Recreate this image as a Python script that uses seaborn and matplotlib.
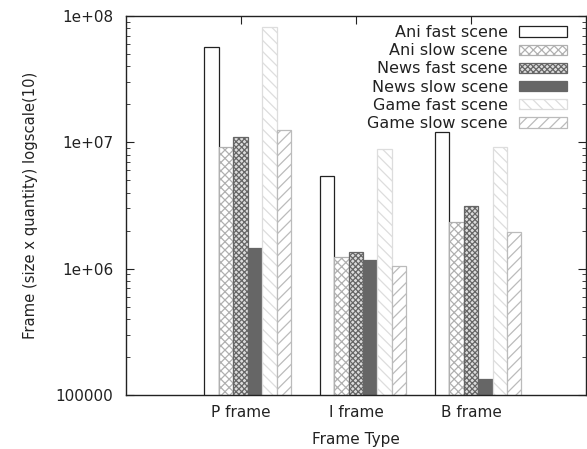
import numpy as np
import pandas as pd
import seaborn as sns
import matplotlib
matplotlib.use("Agg")
import matplotlib.pyplot as plt
from matplotlib.patches import Patch
from matplotlib.ticker import FixedLocator, FuncFormatter, LogLocator

frames = ["P frame", "I frame", "B frame"]
scenes = ["Ani fast scene", "Ani slow scene", "News fast scene",
          "News slow scene", "Game fast scene", "Game slow scene"]
ani_fast = [5.7e7, 5.4e6, 1.21e7]
ani_slow = [9.2e6, 1.24e6, 2.34e6]
news_fast = [1.1e7, 1.35e6, 3.13e6]
news_slow = [1.46e6, 1.17e6, 1.34e5]
game_fast = [8.2e7, 8.85e6, 9.2e6]
game_slow = [1.25e7, 1.05e6, 1.95e6]
yticks = [1e5, 1e6, 1e7, 1e8]
ytick_labels = ["100000", "1e+06", "1e+07", "1e+08"]

series = [ani_fast, ani_slow, news_fast, news_slow, game_fast, game_slow]
rows = []
for s, vals in zip(scenes, series):
    for f, v in zip(frames, vals):
        rows.append({"frame": f, "scene": s, "value": v})
df = pd.DataFrame(rows)

sns.set_style("ticks")
plt.rcParams["font.family"] = ["DejaVu Sans"]
plt.rcParams["hatch.linewidth"] = 0.9

styles = [
    dict(facecolor="white", edgecolor="#222222", hatch=None, lw=0.9),
    dict(facecolor="white", edgecolor="#b0b0b0", hatch="xxxx", lw=0.9),
    dict(facecolor="#dddddd", edgecolor="#666666", hatch="xxxxxx", lw=0.9),
    dict(facecolor="#666666", edgecolor="#666666", hatch=None, lw=0.9),
    dict(facecolor="white", edgecolor="#dddddd", hatch="\\\\\\", lw=0.9),
    dict(facecolor="white", edgecolor="#bbbbbb", hatch="///", lw=0.9),
]

fig = plt.figure(figsize=(5.87, 4.49), dpi=100)
ax = fig.add_axes([126/587, 1-395/449, (586-126)/587, (395-16)/449])

sns.barplot(data=df, x="frame", y="value", hue="scene", order=frames,
            hue_order=scenes, width=0.75, dodge=True, ax=ax,
            log_scale=(False, True), errorbar=None, legend=False)

for cont, st in zip(ax.containers, styles):
    for p in cont.patches:
        p.set_facecolor(st["facecolor"])
        p.set_edgecolor(st["edgecolor"])
        p.set_linewidth(st["lw"])
        if st["hatch"]:
            p.set_hatch(st["hatch"])

ax.set_yscale("log")
ax.set_ylim(1e5, 1e8)
ax.set_xlim(-1.056, 2.935)
ax.yaxis.set_major_locator(FixedLocator(yticks))
ax.set_yticklabels(ytick_labels)
ax.yaxis.set_minor_locator(LogLocator(base=10, subs=np.arange(2, 10)))
ax.yaxis.set_minor_formatter(FuncFormatter(lambda v, p: ""))
ax.set_xticks([-0.06, 0.94, 1.94])
ax.set_xticklabels(frames)

for sp in ax.spines.values():
    sp.set_visible(True)
    sp.set_color("#222222")
    sp.set_linewidth(1.0)

ax.tick_params(axis="both", which="major", direction="in", length=6,
               top=True, right=True, labelsize=11, color="#222222",
               labelcolor="#222222")
ax.tick_params(axis="y", which="major", pad=9)
ax.tick_params(axis="y", which="minor", direction="in", length=3,
               left=True, right=True, color="#222222")
ax.tick_params(axis="x", which="major", bottom=True, pad=7)

ax.set_xlabel("Frame Type", fontsize=11, color="#222222", labelpad=9)
ax.set_ylabel("Frame (size x quantity) logscale(10)", fontsize=10.6,
              color="#222222", labelpad=13)

handles = []
for st in styles:
    handles.append(Patch(facecolor=st["facecolor"], edgecolor=st["edgecolor"],
                         hatch=st["hatch"], linewidth=st["lw"]))
ax.legend(handles, scenes, loc="upper right", bbox_to_anchor=(0.9587, 0.976),
          frameon=False, markerfirst=False, handlelength=3.0, handleheight=0.6,
          handletextpad=0.7, labelspacing=0.2, fontsize=11.5, borderaxespad=0,
          borderpad=0, labelcolor="#222222")

fig.savefig("out.png", dpi=100)
